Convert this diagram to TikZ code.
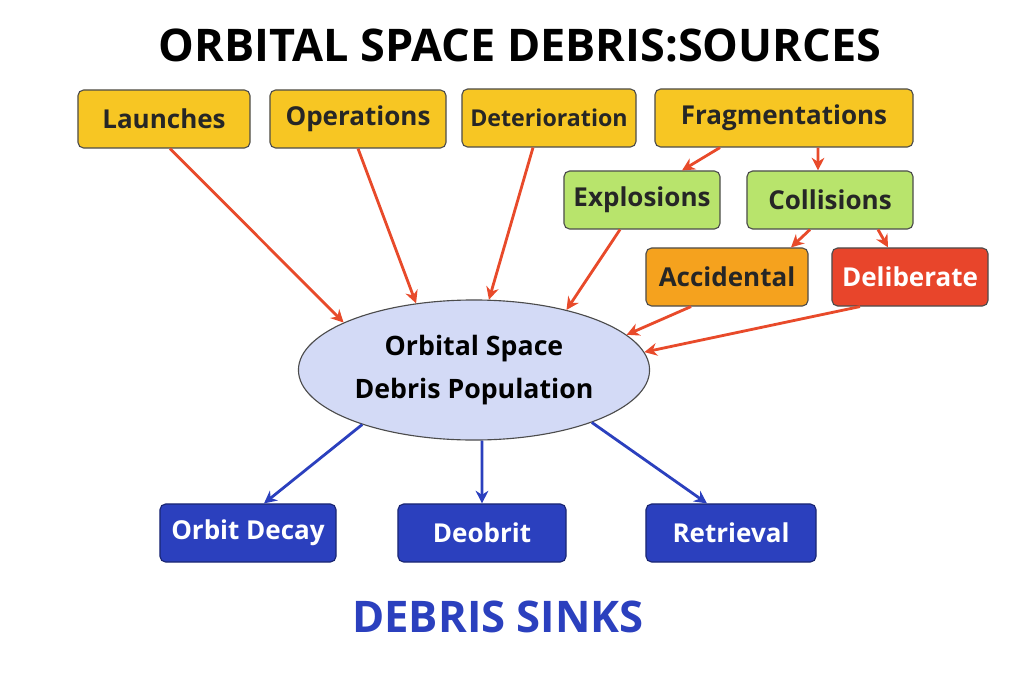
\documentclass[tikz,border=0pt]{standalone}
\usepackage{fontspec}
\setmainfont{Open Sans}
\usetikzlibrary{shapes.geometric,arrows.meta,positioning}
\definecolor{srcyellow}{HTML}{F7C623}
\definecolor{srcgreen}{HTML}{B8E46C}
\definecolor{srcorange}{HTML}{F5A21E}
\definecolor{srcred}{HTML}{E8452B}
\definecolor{arrred}{HTML}{E84A2A}
\definecolor{sinkblue}{HTML}{2B40BE}
\definecolor{popfill}{HTML}{D3DAF6}
\begin{document}
\begin{tikzpicture}[
    x=0.025cm, y=-0.025cm,
    box/.style={rectangle, rounded corners=4pt, draw=black!70, line width=0.8pt, minimum height=1.45cm,
      font=\fontsize{18.5}{22}\selectfont\bfseries, text=black!85},
    source/.style={box, fill=srcyellow},
    frag/.style={box, fill=srcgreen},
    sink/.style={box, fill=sinkblue, draw=sinkblue!60!black, text=white},
    redarrow/.style={draw=arrred, line width=2pt, -{Stealth[length=9pt,width=9pt]}},
    bluearrow/.style={draw=sinkblue, line width=2pt, -{Stealth[length=9pt,width=9pt]}}
]
    \useasboundingbox (0,0) rectangle (1024,683);

    % Titles
    \node[font=\fontsize{32}{38}\selectfont\bfseries] (title) at (520,45) {ORBITAL SPACE DEBRIS:SOURCES};
    \node[font=\fontsize{31}{36}\selectfont\bfseries, text=sinkblue] (sinks) at (498,617) {DEBRIS SINKS};

    % Sources
    \node[source, minimum width=4.3cm] (launch) at (164,119) {Launches};
    \node[source, minimum width=4.4cm] (oper) at (358,119) {Operations};
    \node[source, minimum width=4.35cm, font=\fontsize{16.5}{19}\selectfont\bfseries] (deter) at (549,118) {Deterioration};
    \node[source, minimum width=6.45cm] (frag) at (784,118) {Fragmentations};
    \node[frag, minimum width=3.9cm] (expl) at (642,200) {Explosions};
    \node[frag, minimum width=4.15cm] (coll) at (830,200) {Collisions};
    \node[box, fill=srcorange, minimum width=4.05cm] (acc) at (727,277) {Accidental};
    \node[box, fill=srcred, text=white, minimum width=3.9cm] (delib) at (910,277) {Deliberate};

    % Population
    \node[ellipse, draw=black!70, line width=0.8pt, fill=popfill, minimum width=8.4cm, minimum height=3.5cm,
      align=center, font=\fontsize{19}{30}\selectfont\bfseries] (pop) at (474,370) {Orbital Space\\Debris Population};

    % Sinks
    \node[sink, minimum width=4.4cm] (decay) at (248,533) {Orbit Decay};
    \node[sink, minimum width=4.2cm] (deorb) at (482,533) {Deobrit};
    \node[sink, minimum width=4.25cm] (retr) at (731,533) {Retrieval};

    % Source arrows
    \draw[redarrow] ([xshift=0.15cm]launch.south) -- (pop.160);
    \draw[redarrow] (oper.south) -- (pop.131);
    \draw[redarrow] ([xshift=-0.4cm]deter.south) -- (pop.78);
    \draw[redarrow] ([xshift=-0.55cm]expl.south) -- (pop.33);
    \draw[redarrow] ([xshift=-1.6cm]frag.south) -- ([xshift=1cm]expl.north);
    \draw[redarrow] ([xshift=0.85cm]frag.south) -- ([xshift=-0.3cm]coll.north);
    \draw[redarrow] ([xshift=-0.5cm]coll.south) -- ([xshift=1.6cm]acc.north);
    \draw[redarrow] ([xshift=1.2cm]coll.south) -- ([xshift=-0.55cm]delib.north);
    \draw[redarrow] ([xshift=-0.9cm]acc.south) -- (pop.13);
    \draw[redarrow] ([xshift=-1.25cm]delib.south) -- (pop.6);

    % Sink arrows
    \draw[bluearrow] (pop.206) -- ([xshift=0.4cm]decay.north);
    \draw[bluearrow] ([xshift=0.2cm]pop.south) -- (deorb.north);
    \draw[bluearrow] (pop.336) -- ([xshift=-0.6cm]retr.north);
\end{tikzpicture}
\end{document}
